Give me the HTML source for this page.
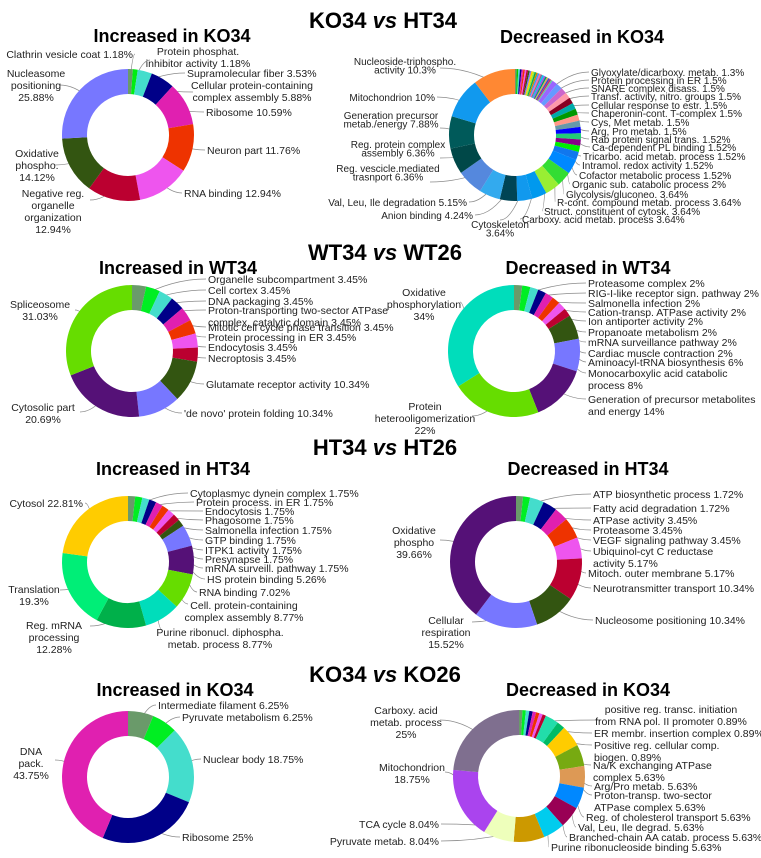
<!DOCTYPE html>
<html><head><meta charset="utf-8">
<style>
html,body{margin:0;padding:0;background:#fff;}
svg{display:block;font-family:"Liberation Sans",Arial,sans-serif;}
.main{font-size:22px;font-weight:bold;text-anchor:middle;fill:#000;}
.sub{font-size:18px;font-weight:bold;text-anchor:middle;fill:#000;}
.lab{font-size:10.5px;fill:#222;}
.lab2{font-size:10px;fill:#222;}
</style></head>
<body>
<svg id="fig" width="761" height="858" viewBox="0 0 761 858">
<text class="main" x="383" y="28">KO34 <tspan font-style="italic">vs</tspan> HT34</text>
<text class="sub" x="172" y="42">Increased in KO34</text>
<text class="sub" x="582" y="43">Decreased in KO34</text>
<text class="main" x="385" y="260">WT34 <tspan font-style="italic">vs</tspan> WT26</text>
<text class="sub" x="178" y="274">Increased in WT34</text>
<text class="sub" x="588" y="274">Decreased in WT34</text>
<text class="main" x="385" y="455">HT34 <tspan font-style="italic">vs</tspan> HT26</text>
<text class="sub" x="173" y="475">Increased in HT34</text>
<text class="sub" x="588" y="475">Decreased in HT34</text>
<text class="main" x="385" y="682">KO34 <tspan font-style="italic">vs</tspan> KO26</text>
<text class="sub" x="175" y="696">Increased in KO34</text>
<text class="sub" x="588" y="696">Decreased in KO34</text>
</svg>
<script>
// ---------- data ----------
const c1Labels = ["Clathrin vesicle coat 1.18%","Protein phosphat.|inhibitor activity 1.18%","Supramolecular fiber 3.53%","Cellular protein-containing|complex assembly 5.88%","Ribosome 10.59%","Neuron part 11.76%","RNA binding 12.94%","Negative reg.|organelle|organization|12.94%","Oxidative|phospho.|14.12%","Nucleasome|positioning|25.88%"];
const c1Values = [1.18,1.18,3.53,5.88,10.59,11.76,12.94,12.94,14.12,25.88];

const c2Tiny = [0.4,0.4,0.4,0.4,0.4,0.4,0.4,0.4,0.4,0.4,0.4,0.4,0.4,0.4,0.4,0.4,0.4,0.4,0.4,0.4,0.4,0.4,0.4,0.4];
const c2Labels = ["Glyoxylate/dicarboxy. metab. 1.3%","Protein processing in ER 1.5%","SNARE complex disass. 1.5%","Transf. activity, nitro. groups 1.5%","Cellular response to estr. 1.5%","Chaperonin-cont. T-complex 1.5%","Cys, Met metab. 1.5%","Arg, Pro metab. 1.5%","Rab protein signal trans. 1.52%","Ca-dependent PL binding 1.52%","Tricarbo. acid metab. process 1.52%","Intramol. redox activity 1.52%","Cofactor metabolic process 1.52%","Organic sub. catabolic process 2%","Glycolysis/gluconeo. 3.64%","R-cont. compound metab. process 3.64%","Struct. constituent of cytosk. 3.64%","Carboxy. acid metab. process 3.64%","Cytoskeleton|3.64%","Anion binding 4.24%","Val, Leu, Ile degradation 5.15%","Reg. vescicle.mediated|trasnport 6.36%","Reg. protein complex|assembly 6.36%","Generation precursor|metab./energy 7.88%","Mitochondrion 10%","Nucleoside-triphospho.|activity 10.3%"];
const c2Values = [1.3,1.5,1.5,1.5,1.5,1.5,1.5,1.5,1.52,1.52,1.52,1.52,1.52,2,3.64,3.64,3.64,3.64,3.64,4.24,5.15,6.36,6.36,7.88,10,10.3];

const c3Labels = ["Organelle subcompartment 3.45%","Cell cortex 3.45%","DNA packaging 3.45%","Proton-transporting two-sector ATPase|complex, catalytic domain 3.45%","Mitotic cell cycle phase transition 3.45%","Protein processing in ER 3.45%","Endocytosis 3.45%","Necroptosis 3.45%","Glutamate receptor activity 10.34%","'de novo' protein folding 10.34%","Cytosolic part|20.69%","Spliceosome|31.03%"];
const c3Values = [3.45,3.45,3.45,3.45,3.45,3.45,3.45,3.45,10.34,10.34,20.69,31.03];

const c4Labels = ["Proteasome complex 2%","RIG-I-like receptor sign. pathway 2%","Salmonella infection 2%","Cation-transp. ATPase activity 2%","Ion antiporter activity 2%","Propanoate metabolism 2%","mRNA surveillance pathway 2%","Cardiac muscle contraction 2%","Aminoacyl-tRNA biosynthesis 6%","Monocarboxylic acid catabolic|process 8%","Generation of precursor metabolites|and energy 14%","Protein|heterooligomerization|22%","Oxidative|phosphorylation|34%"];
const c4Values = [2,2,2,2,2,2,2,2,6,8,14,22,34];

const c5Labels = ["Cytoplasmyc dynein complex 1.75%","Protein process. in ER 1.75%","Endocytosis 1.75%","Phagosome 1.75%","Salmonella infection 1.75%","GTP binding 1.75%","ITPK1 activity 1.75%","Presynapse 1.75%","mRNA surveill. pathway 1.75%","HS protein binding 5.26%","RNA binding 7.02%","Cell. protein-containing|complex assembly 8.77%","Purine ribonucl. diphospha.|metab. process 8.77%","Reg. mRNA|processing|12.28%","Translation|19.3%","Cytosol 22.81%"];
const c5Values = [1.75,1.75,1.75,1.75,1.75,1.75,1.75,1.75,1.75,5.26,7.02,8.77,8.77,12.28,19.3,22.81];

const c6Labels = ["ATP biosynthetic process 1.72%","Fatty acid degradation 1.72%","ATPase activity 3.45%","Proteasome 3.45%","VEGF signaling pathway 3.45%","Ubiquinol-cyt C reductase|activity 5.17%","Mitoch. outer membrane 5.17%","Neurotransmitter transport 10.34%","Nucleosome positioning 10.34%","Cellular|respiration|15.52%","Oxidative|phospho|39.66%"];
const c6Values = [1.72,1.72,3.45,3.45,3.45,5.17,5.17,10.34,10.34,15.52,39.66];

const c7Labels = ["Intermediate filament 6.25%","Pyruvate metabolism 6.25%","Nuclear body 18.75%","Ribosome 25%","DNA|pack.|43.75%"];
const c7Values = [6.25,6.25,18.75,25,43.75];

const c8Labels = ["positive reg. transc. initiation|from RNA pol. II promoter 0.89%","ER membr. insertion complex 0.89%","Positive reg. cellular comp.|biogen. 0.89%","","","","","","Na/K exchanging ATPase|complex 5.63%","","Arg/Pro metab. 5.63%","Proton-transp. two-sector|ATPase complex 5.63%","Reg. of cholesterol transport 5.63%","Val, Leu, Ile degrad. 5.63%","Branched-chain AA catab. process 5.63%","Purine ribonucleoside binding 5.63%","Pyruvate metab. 8.04%","TCA cycle 8.04%","Mitochondrion|18.75%","Carboxy. acid|metab. process|25%"];
const c8Values = [0.89,0.89,0.89,0.89,0.89,0.89,0.89,0.89,3.5,2.1,5.63,5.63,5.63,5.63,5.63,5.63,8.04,8.04,18.75,25];

// ---------- styling / layout (not data) ----------
const P = ['#6a9a6a','#00ee11','#44ddcc','#000088','#e020b0','#ee3300','#ee55ee','#bb0030','#335511','#7777ff','#551177','#66dd00','#00ddbb'];
const col1 = ['#6a9a6a','#00ee11','#44ddcc','#000088','#e020b0','#ee3300','#ee55ee','#bb0030','#335511','#7777ff'];
const tinyPal = ['#6a9a6a','#00cc00','#44ddcc','#000088','#e020b0','#ee3300','#ee55ee','#bb0030','#335511','#7777ff','#ffcc00','#99ee33','#00aa55','#cc8800','#3399ff','#ff66aa','#7f6f8f','#00ccee','#aa44ee','#009966','#ddaa55','#4444cc','#cc3366','#66cc99'];
const col2 = ['#9966ff','#6699ff','#cc66cc','#ff99aa','#880022','#00aaaa','#009900','#ff9988','#6699aa','#0000ff','#22cc77','#880088','#00ee00','#1177ee','#0088ff','#33dd33','#99ee33','#0099ee','#1199ee','#004455','#33aaee','#5588dd','#004848','#005a5a','#1199ee','#ff8833'];
const col3 = ['#6a9a6a','#00ee22','#44ddcc','#000088','#e020b0','#ee3300','#ee55ee','#bb0030','#335511','#7777ff','#551177','#66dd00'];
const col4 = ['#6a9a6a','#00ee22','#44ddcc','#000088','#e020b0','#ee3300','#ee55ee','#bb0030','#335511','#7777ff','#551177','#66dd00','#00ddbb'];
const col5 = ['#6a9a6a','#00ee22','#44ddcc','#000088','#e020b0','#ee3300','#ee55ee','#bb0030','#335511','#7777ff','#551177','#66dd00','#00ddbb','#00b04a','#00ee77','#ffcc00'];
const col6 = ['#6a9a6a','#00ee22','#44ddcc','#000088','#e020b0','#ee3300','#ee55ee','#bb0030','#335511','#7777ff','#551177'];
const col7 = ['#6a9a6a','#00ee22','#44ddcc','#000088','#e020b0'];
const col8 = ['#6a9a6a','#00ee22','#44ddcc','#000088','#e020b0','#ee3300','#ee55ee','#bb0030','#22ddaa','#00bb66','#ffcc00','#77aa11','#dd9955','#0088ff','#990055','#00ccee','#cc9900','#eeffbb','#aa44ee','#7f6f8f'];

// label layout: [x, baseline, anchor, leaderX, leaderY]
const L1 = [[133,58,'end'],[198,55,'middle',150,60],[187,77,'start'],[252,89,'middle',193,92],[206,116,'start'],[207,154,'start'],[184,197,'start'],[53,197,'middle',90,200],[37,157,'middle',55,165],[36,77,'middle',60,85]];
const L2 = [[591,76,'start'],[591,84,'start'],[591,92,'start'],[591,100,'start'],[591,109,'start'],[591,117,'start'],[591,126,'start'],[591,135,'start'],[591,143,'start'],[592,151,'start'],[583,160,'start'],[582,169,'start'],[579,179,'start'],[572,188,'start'],[566,198,'start'],[557,206,'start'],[544,215,'start'],[522,223,'start'],[500,228,'middle',500,220],[473,219,'end'],[467,206,'end'],[388,172,'middle',430,182],[398,148,'middle',440,158],[391,119,'middle',440,128],[435,101,'end'],[405,65,'middle',440,68]];
const L3 = [[208,283,'start'],[208,294,'start'],[208,305,'start'],[208,314,'start'],[208,331,'start'],[208,341,'start'],[208,351,'start'],[208,362,'start'],[206,388,'start'],[184,417,'start'],[43,411,'middle',80,412],[40,308,'middle',75,310]];
const L4 = [[588,287,'start'],[588,297,'start'],[588,307,'start'],[588,316,'start'],[588,325,'start'],[588,336,'start'],[588,346,'start'],[588,357,'start'],[588,366,'start'],[588,377,'start'],[588,403,'start'],[425,410,'middle',472,416],[424,296,'middle',460,302]];
const L5 = [[190,497,'start'],[196,506,'start'],[205,515,'start'],[205,524,'start'],[205,534,'start'],[205,544,'start'],[205,554,'start'],[205,563,'start'],[205,572,'start'],[207,583,'start'],[199,596,'start'],[244,609,'middle',188,604],[220,636,'middle',162,630],[54,629,'middle',90,626],[34,593,'middle',60,590],[83,507,'end']];
const L6 = [[593,498,'start'],[593,512,'start'],[593,524,'start'],[593,534,'start'],[593,544,'start'],[593,555,'start'],[588,577,'start'],[593,592,'start'],[595,624,'start'],[446,624,'middle',472,622],[414,534,'middle',440,540]];
const L7 = [[158,709,'start'],[182,721,'start'],[203,763,'start'],[182,841,'start'],[31,755,'middle',55,760]];
const L8 = [[671,713,'middle',600,720],[594,737,'start'],[594,749,'start'],null,null,null,null,null,[593,769,'start'],null,[594,790,'start'],[594,799,'start'],[586,821,'start'],[578,831,'start'],[569,841,'start'],[551,851,'start'],[439,845,'end'],[439,828,'end'],[412,771,'middle',445,772],[406,714,'middle',440,720]];

const NS = 'http://www.w3.org/2000/svg';
const svg = document.getElementById('fig');
const RO = 66, RI = 41;

function pt(cx, cy, r, f) { // f = fraction of full turn from 12 o'clock, clockwise
  const a = f * 2 * Math.PI - Math.PI / 2;
  return [cx + r * Math.cos(a), cy + r * Math.sin(a)];
}

function donut(name, cx, cy, values, colors, labels, layout, cls) {
  const g = document.createElementNS(NS, 'g');
  
  
  svg.appendChild(g);
  const total = values.reduce((s, v) => s + v, 0);
  let acc = 0;
  const lineG = document.createElementNS(NS, 'g');
  values.forEach((v, i) => {
    const f0 = acc / total, f1 = (acc + v) / total; acc += v;
    const large = (f1 - f0) > 0.5 ? 1 : 0;
    const a = pt(cx, cy, RO, f0), b = pt(cx, cy, RO, f1), c = pt(cx, cy, RI, f1), d = pt(cx, cy, RI, f0);
    const p = document.createElementNS(NS, 'path');
    p.setAttribute('d', `M${a[0]},${a[1]} A${RO},${RO} 0 ${large} 1 ${b[0]},${b[1]} L${c[0]},${c[1]} A${RI},${RI} 0 ${large} 0 ${d[0]},${d[1]} Z`);
    p.setAttribute('fill', colors[i % colors.length]);
    
    
    g.appendChild(p);
    const lab = labels[i], lay = layout[i];
    if (!lab || !lay) return;
    const m = pt(cx, cy, (RO + RI) / 2, (f0 + f1) / 2);
    let lx, ly;
    if (lay.length > 3) { lx = lay[3]; ly = lay[4]; }
    else if (lay[2] === 'start') { lx = lay[0] - 2; ly = lay[1] - 4; }
    else { lx = lay[0] + 2; ly = lay[1] - 4; }
    const ln = document.createElementNS(NS, 'path');
    const mx = (m[0] + lx) / 2;
    ln.setAttribute('d', `M${m[0]},${m[1]} Q${mx},${ly} ${lx},${ly}`);
    ln.setAttribute('fill', 'none');
    ln.setAttribute('stroke', '#8a8a8a');
    ln.setAttribute('stroke-width', '0.7');
    
    
    lineG.appendChild(ln);
    const t = document.createElementNS(NS, 'text');
    t.setAttribute('class', cls || 'lab');
    t.setAttribute('text-anchor', lay[2]);
    
    
    const lines = lab.split('|');
    const lh = cls === 'lab2' ? 8.5 : 12;
    lines.forEach((s, k) => {
      const ts = document.createElementNS(NS, 'tspan');
      ts.setAttribute('x', lay[0]);
      ts.setAttribute('y', lay[1] + k * lh);
      ts.textContent = s;
      t.appendChild(ts);
    });
    g.appendChild(t);
  });
  g.insertBefore(lineG, g.firstChild);
  svg.appendChild(lineG);
  svg.appendChild(g);
}

// chart 2 combines tiny unlabeled slices + labeled slices
const c2AllValues = c2Tiny.concat(c2Values);
const c2AllLabels = c2Tiny.map(() => '').concat(c2Labels);
const c2AllCols = tinyPal.slice(0, c2Tiny.length).concat(col2);
const L2All = c2Tiny.map(() => null).concat(L2);
// wider leader fan for tiny slices in chart 2
c2Tiny.forEach((v, i) => { L2All[i] = null; });

donut('donut-increased-ko34-vs-ht34', 128, 135, c1Values, col1, c1Labels, L1, 'lab');
donut('donut-decreased-ko34-vs-ht34', 515, 135, c2AllValues, c2AllCols, c2AllLabels, L2All, 'lab2');
donut('donut-increased-wt34', 132, 351, c3Values, col3, c3Labels, L3, 'lab');
donut('donut-decreased-wt34', 514, 351, c4Values, col4, c4Labels, L4, 'lab');
donut('donut-increased-ht34', 128, 562, c5Values, col5, c5Labels, L5, 'lab');
donut('donut-decreased-ht34', 516, 562, c6Values, col6, c6Labels, L6, 'lab');
donut('donut-increased-ko34-vs-ko26', 128, 777, c7Values, col7, c7Labels, L7, 'lab');
donut('donut-decreased-ko34-vs-ko26', 519, 776, c8Values, col8, c8Labels, L8, 'lab');
</script>
</body></html>
